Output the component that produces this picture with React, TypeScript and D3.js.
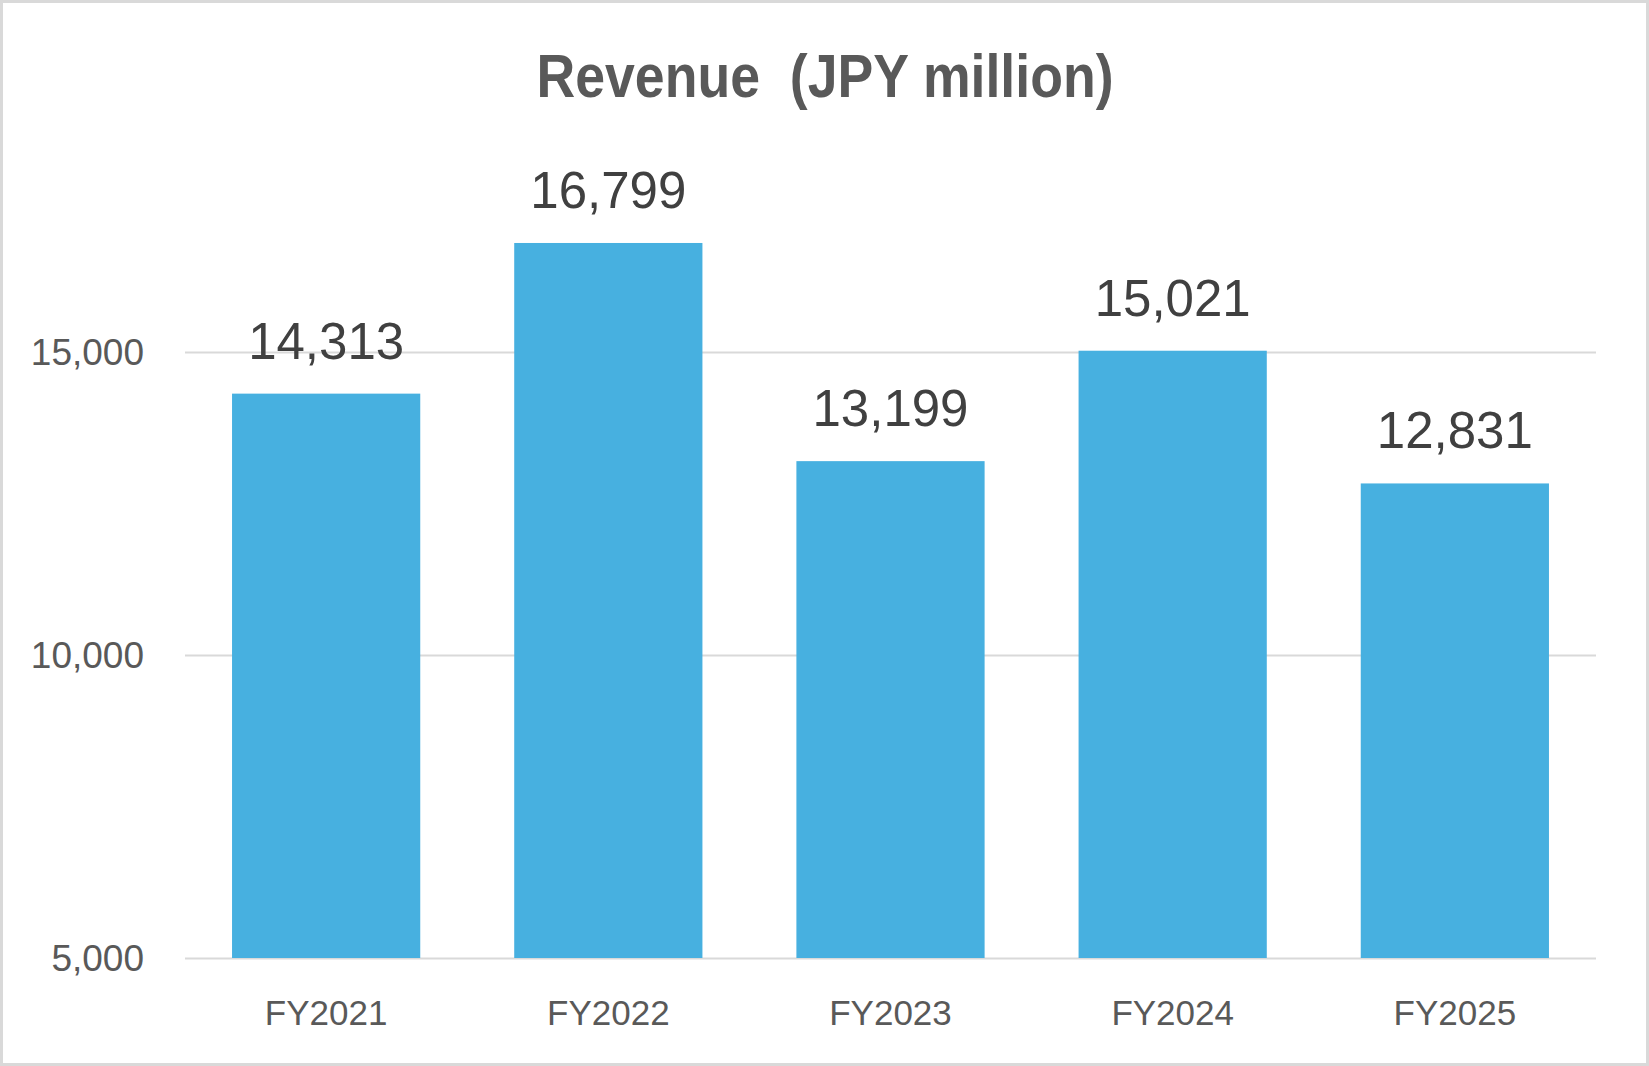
import { useEffect, useRef } from "react";
import * as d3 from "d3";

const categories = ["FY2021", "FY2022", "FY2023", "FY2024", "FY2025"];
const revenue = [14313, 16799, 13199, 15021, 12831];
const yTicks = [5000, 10000, 15000];
const title = "Revenue\u00a0\u00a0(JPY million)";

const W = 1649;
const H = 1066;

export default function App() {
  const ref = useRef<SVGSVGElement>(null);

  useEffect(() => {
    if (!ref.current) return;
    document.body.style.margin = "0";
    const svg = d3.select(ref.current);
    svg.selectAll("*").remove();

    const left = 185;
    const right = 1596;
    const y0 = 958;
    const y1 = 352;

    const x = d3
      .scaleBand<string>()
      .domain(categories)
      .range([left, right])
      .paddingInner(0.333)
      .paddingOuter(0.1667);

    const y = d3.scaleLinear().domain([5000, 15000]).range([y0, y1]);

    // background + frame
    svg
      .append("rect")
      .attr("x", 1.5)
      .attr("y", 1.5)
      .attr("width", W - 3)
      .attr("height", H - 3)
      .attr("fill", "#ffffff")
      .attr("stroke", "#d9d9d9")
      .attr("stroke-width", 3);

    // title (narrow bold look)
    svg
      .append("text")
      .attr("x", 825)
      .attr("y", 97)
      .attr("text-anchor", "middle")
      .attr("textLength", 577)
      .attr("lengthAdjust", "spacingAndGlyphs")
      .style("font-family", "'Liberation Sans', Arial, sans-serif")
      .style("font-weight", "bold")
      .style("font-size", "61px")
      .style("fill", "#595959")
      .text(title);

    // gridlines
    svg
      .append("g")
      .selectAll("line")
      .data(yTicks)
      .enter()
      .append("line")
      .attr("x1", left)
      .attr("x2", right)
      .attr("y1", (d) => y(d) + 0.5)
      .attr("y2", (d) => y(d) + 0.5)
      .attr("stroke", "#d9d9d9")
      .attr("stroke-width", 2);

    // y tick labels
    svg
      .append("g")
      .selectAll("text")
      .data(yTicks)
      .enter()
      .append("text")
      .attr("x", 144)
      .attr("y", (d) => y(d))
      .attr("dy", "0.36em")
      .attr("text-anchor", "end")
      .style("font-family", "'Liberation Sans', Arial, sans-serif")
      .style("font-size", "37px")
      .style("fill", "#595959")
      .text((d) => d3.format(",")(d));

    // bars
    svg
      .append("g")
      .selectAll("rect")
      .data(revenue)
      .enter()
      .append("rect")
      .attr("x", (_, i) => x(categories[i]) as number)
      .attr("width", x.bandwidth())
      .attr("y", (d) => y(d))
      .attr("height", (d) => y0 - y(d))
      .attr("fill", "#47b0e0");

    // value labels
    svg
      .append("g")
      .selectAll("text")
      .data(revenue)
      .enter()
      .append("text")
      .attr("x", (_, i) => (x(categories[i]) as number) + x.bandwidth() / 2)
      .attr("y", (d) => y(d) - 35)
      .attr("text-anchor", "middle")
      .style("font-family", "'Liberation Sans', Arial, sans-serif")
      .style("font-size", "51px")
      .style("fill", "#404040")
      .text((d) => d3.format(",")(d));

    // category labels
    svg
      .append("g")
      .selectAll("text")
      .data(categories)
      .enter()
      .append("text")
      .attr("x", (d) => (x(d) as number) + x.bandwidth() / 2)
      .attr("y", 1025)
      .attr("text-anchor", "middle")
      .style("font-family", "'Liberation Sans', Arial, sans-serif")
      .style("font-size", "35px")
      .style("fill", "#595959")
      .text((d) => d);
  }, []);

  return <svg ref={ref} width={W} height={H} style={{ display: "block" }} />;
}
